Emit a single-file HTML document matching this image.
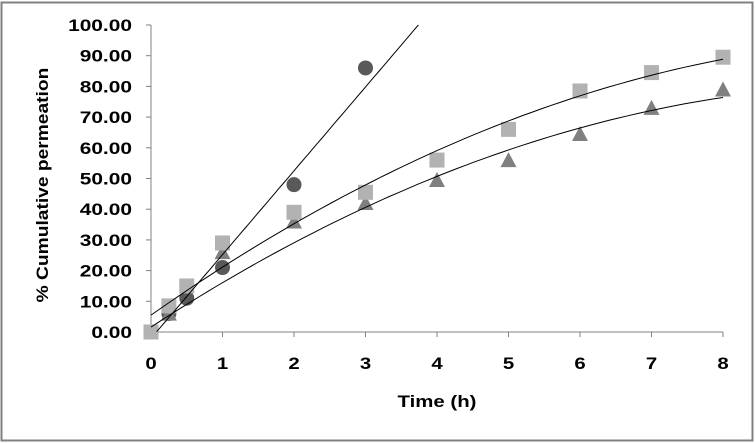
<!DOCTYPE html>
<html><head><meta charset="utf-8"><style>
html,body{margin:0;padding:0;background:#fff}
svg{display:block;font-family:"Liberation Sans",Arial,sans-serif}
</style></head><body>
<svg id="c" width="755" height="443">
<rect x="1.5" y="2.5" width="751" height="438" fill="#fff" stroke="#808080" stroke-width="2"/>
<g id="axes"></g><g id="marks"></g>
<text transform="translate(48 185) rotate(-90) scale(1.13 1)" text-anchor="middle" font-size="17" font-weight="bold">% Cumulative permeation</text>
<text transform="translate(437 407) scale(1.2 1)" text-anchor="middle" font-size="17" font-weight="bold">Time (h)</text>
</svg>
<script>
const xTicks=[0,1,2,3,4,5,6,7,8];
const yTicks=[0,10,20,30,40,50,60,70,80,90,100];
const circleT=[0.25,0.5,1,2,3];
const circleV=[6,11,21,48,86];
const squareT=[0,0.25,0.5,1,2,3,4,5,6,7,8];
const squareV=[0,8.5,15,29,39,45.5,56,66,78.5,84.5,89.5];
const triT=[0.25,1,2,3,4,5,6,7,8];
const triV=[6,26,36,42,49.5,56,64.5,73,79];
const circleFit=[-2.1,27.3];
const squareFit=[5.5,16.37,-0.744];
const triFit=[1.6,15.19,-0.73];
const X=t=>151+t*71.5, Y=v=>332-v*3.07;
const NS="http://www.w3.org/2000/svg";
const ax=document.getElementById('axes'), mk=document.getElementById('marks');
function el(p,tag,a){const e=document.createElementNS(NS,tag);for(const k in a)e.setAttribute(k,a[k]);p.appendChild(e);return e;}
let l=el(ax,'line',{x1:X(0),y1:Y(0),x2:X(8),y2:Y(0),stroke:'#808080','stroke-width':1});


l=el(ax,'line',{x1:X(0),y1:Y(0),x2:X(0),y2:Y(100),stroke:'#808080','stroke-width':1});


xTicks.forEach(t=>{
 el(ax,'line',{x1:X(t),y1:Y(0),x2:X(t),y2:Y(0)+5,stroke:'#808080'});
 const tx=el(ax,'text',{transform:`translate(${X(t)} 369) scale(1.2 1)`,'text-anchor':'middle','font-size':17,'font-weight':'bold'});
 tx.textContent=t;
 
 
});
yTicks.forEach(v=>{
 el(ax,'line',{x1:X(0)-5,y1:Y(v),x2:X(0),y2:Y(v),stroke:'#808080'});
 const tx=el(ax,'text',{transform:`translate(132 ${Y(v)+6}) scale(1.23 1)`,'text-anchor':'end','font-size':17,'font-weight':'bold'});
 tx.textContent=v.toFixed(2);
 
 
});
circleT.forEach((t,i)=>{
 const c=el(mk,'circle',{cx:X(t),cy:Y(circleV[i]),r:7.5,fill:'#595959'});
 
 
});
triT.forEach((t,i)=>{
 const x=X(t),y=Y(triV[i]);
 const p=el(mk,'polygon',{points:`${x-8},${y+7} ${x+8},${y+7} ${x},${y-8}`,fill:'#808080'});
 
 
});
squareT.forEach((t,i)=>{
 const r=el(mk,'rect',{x:X(t)-7.5,y:Y(squareV[i])-7.5,width:15,height:15,fill:'#b2b2b2'});
 
 
});
function curve(f,t0,t1,name){
 let d='';for(let k=0;k<=60;k++){const t=t0+(t1-t0)*k/60;let v=0;f.forEach((c,j)=>v+=c*Math.pow(t,j));d+=(k?'L':'M')+X(t).toFixed(1)+','+Y(v).toFixed(1);}
 const p=el(mk,'path',{d:d,fill:'none',stroke:'#000','stroke-width':1});
 
 
}
curve(circleFit,0.08,(100-circleFit[0])/circleFit[1],'circle-trendline');
curve(squareFit,0,8,'square-trendline');
curve(triFit,0,8,'triangle-trendline');
</script>
</body></html>
